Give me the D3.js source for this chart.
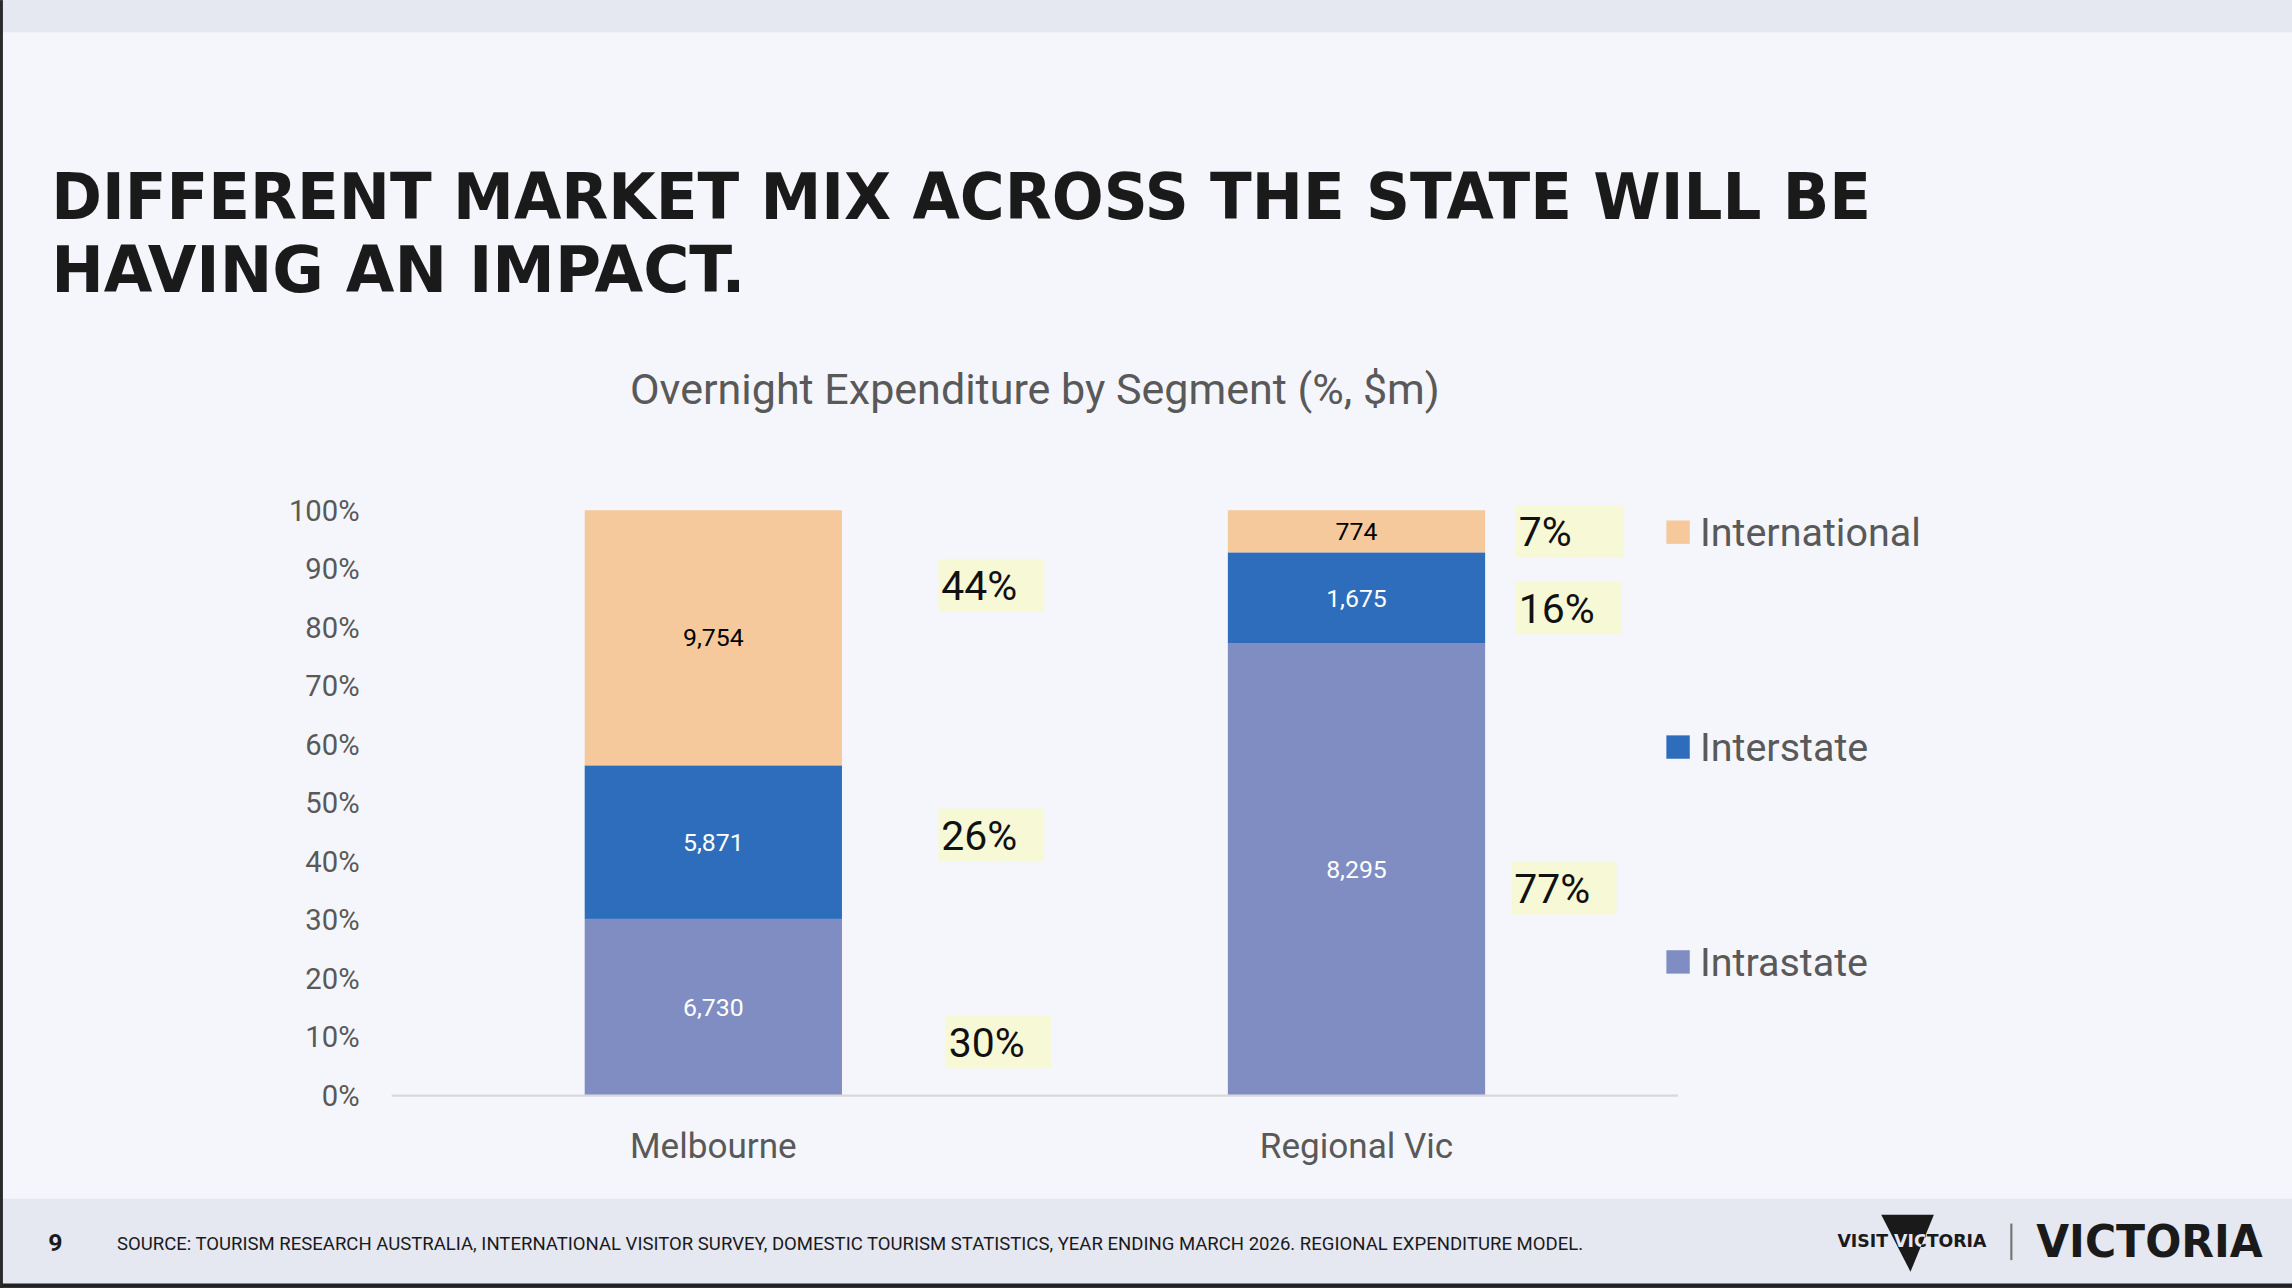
<!DOCTYPE html>
<html>
<head>
<meta charset="utf-8">
<script src="https://cdn.jsdelivr.net/npm/d3@7"></script>
<style>
  html, body { margin: 0; padding: 0; background: #f5f6fb; }
  svg { display: block; }
</style>
</head>
<body>
<svg id="slide" width="2292" height="1288" viewBox="0 0 1568 881"></svg>
<script>
// data
var regions = ['Melbourne', 'Regional Vic']
var segments = ['Intrastate', 'Interstate', 'International']
var intrastate = [6730, 8295]
var interstate = [5871, 1675]
var international = [9754, 774]
var yTicks = [0, 0.1, 0.2, 0.3, 0.4, 0.5, 0.6, 0.7, 0.8, 0.9, 1]

var colors = { Intrastate: '#7f8dc2', Interstate: '#2e6dbb', International: '#f5c99b' }
var labelColors = { Intrastate: '#ffffff', Interstate: '#ffffff', International: '#000000' }

// hand placed % boxes beside each bar: [dx from bar edge, dy from segment middle]
var calloutShift = {
    'Melbourne': { Intrastate: [71, 24], Interstate: [66, -5], International: [66, -36] },
    'Regional Vic': { Intrastate: [18, 13], Interstate: [21, 7], International: [21, 0] }
}

var svg = d3.select('#slide')
var W = 1568, H = 881

// slide background and bands
svg.append('rect').attr('width', W).attr('height', H).attr('fill', '#f5f6fb')
svg.append('rect').attr('width', W).attr('height', 22).attr('fill', '#e5e7f1')
svg.append('rect').attr('y', 820).attr('width', W).attr('height', 61).attr('fill', '#e5e7f1')
svg.append('rect').attr('y', 878).attr('width', W).attr('height', 3).attr('fill', '#222')
svg.append('rect').attr('x', 0).attr('y', 0).attr('width', 2).attr('height', H).attr('fill', '#2a2a2a')

// headline, two lines
var headline = ['DIFFERENT MARKET MIX ACROSS THE STATE WILL BE', 'HAVING AN IMPACT.']
var headWidths = [1245, 475]
svg.selectAll('text.head').data(headline).enter().append('text')
    .attr('class', 'head')
    .attr('x', 35)
    .attr('y', function(d, i) { return 150 + i * 49.5 })
    .attr('textLength', function(d, i) { return headWidths[i] })
    .attr('lengthAdjust', 'spacingAndGlyphs')
    .attr('font-family', 'Liberation Sans Narrow, DejaVu Sans Condensed, sans-serif')
    .attr('font-weight', 'bold')
    .attr('font-size', 44)
    .attr('fill', '#1a1a1a')
    .text(function(d) { return d })

// chart title
svg.append('text')
    .attr('x', 708).attr('y', 276)
    .attr('text-anchor', 'middle')
    .attr('textLength', 554).attr('lengthAdjust', 'spacingAndGlyphs')
    .attr('font-family', 'Roboto, sans-serif')
    .attr('font-size', 29)
    .attr('fill', '#595959')
    .text('Overnight Expenditure by Segment (%, $m)')

// chart
var plot = { left: 268, right: 1148, top: 349, bottom: 749 }

var rows = regions.map(function(r, i) {
    return { region: r, Intrastate: intrastate[i], Interstate: interstate[i], International: international[i] }
})
var stack = d3.stack().keys(segments).offset(d3.stackOffsetExpand)
var series = stack(rows)

var x = d3.scaleBand().domain(regions).range([plot.left, plot.right]).paddingInner(0.6).paddingOuter(0.3)
var y = d3.scaleLinear().domain([0, 1]).range([plot.bottom, plot.top])

var yAxis = d3.axisLeft(y).tickValues(yTicks).tickFormat(d3.format('.0%')).tickSize(0).tickPadding(22)
var gy = svg.append('g').attr('transform', 'translate(' + plot.left + ',0)').call(yAxis)
gy.select('.domain').remove()
gy.selectAll('text')
    .attr('font-family', 'Roboto, sans-serif')
    .attr('font-size', 20)
    .attr('fill', '#595959')
    .attr('dy', '0.34em')

var xAxis = d3.axisBottom(x).tickSize(0).tickPadding(26)
var gx = svg.append('g').attr('transform', 'translate(0,' + plot.bottom + ')').call(xAxis)
gx.select('.domain').remove()
gx.selectAll('text')
    .attr('font-family', 'Roboto, sans-serif')
    .attr('font-size', 24)
    .attr('fill', '#595959')

var layers = svg.selectAll('g.layer').data(series).enter().append('g')
    .attr('class', 'layer')
    .attr('fill', function(d) { return colors[d.key] })

layers.selectAll('rect').data(function(d) { return d }).enter().append('rect')
    .attr('x', function(d) { return x(d.data.region) })
    .attr('width', x.bandwidth())
    .attr('y', function(d) { return y(d[1]) })
    .attr('height', function(d) { return y(d[0]) - y(d[1]) })

// baseline over the bar bottoms
svg.append('line')
    .attr('x1', plot.left).attr('x2', plot.right)
    .attr('y1', plot.bottom + 0.5).attr('y2', plot.bottom + 0.5)
    .attr('stroke', '#d9d9d9').attr('stroke-width', 1.5)

// value labels inside bars
var fmt = d3.format(',')
layers.selectAll('text').data(function(d) {
    return d.map(function(p) { p.key = d.key; return p })
}).enter().append('text')
    .attr('x', function(d) { return x(d.data.region) + x.bandwidth() / 2 })
    .attr('y', function(d) { return (y(d[0]) + y(d[1])) / 2 })
    .attr('dy', '0.35em')
    .attr('text-anchor', 'middle')
    .attr('font-family', 'Roboto, sans-serif')
    .attr('font-size', 17)
    .attr('fill', function(d) { return labelColors[d.key] })
    .text(function(d) { return fmt(d.data[d.key]) })

// % boxes
var pct = d3.format('.0%')
series.forEach(function(s) {
    s.forEach(function(p) {
        var sh = calloutShift[p.data.region][s.key]
        var bx = x(p.data.region) + x.bandwidth() + sh[0]
        var cy = (y(p[0]) + y(p[1])) / 2 + sh[1]
        var label = pct(p[1] - p[0])
        var g = svg.append('g').attr('transform', 'translate(' + bx + ',' + cy + ')')
        g.append('rect')
            .attr('x', 0).attr('y', -18)
            .attr('width', label.length > 2 ? 72 : 74).attr('height', 36)
            .attr('fill', '#f7f8d6')
        g.append('text')
            .attr('x', 2).attr('y', 0).attr('dy', '0.36em')
            .attr('font-family', 'Roboto, sans-serif')
            .attr('font-size', 28)
            .attr('fill', '#111')
            .text(label)
    })
})

// legend
var legendRows = ['International', 'Interstate', 'Intrastate']
var lg = svg.selectAll('g.legend').data(legendRows).enter().append('g')
    .attr('class', 'legend')
    .attr('transform', function(d, i) { return 'translate(1140,' + (364 + i * 147) + ')' })
lg.append('rect')
    .attr('x', 0).attr('y', -8).attr('width', 16).attr('height', 16)
    .attr('fill', function(d) { return colors[d] })
lg.append('text')
    .attr('x', 23).attr('dy', '0.36em')
    .attr('font-family', 'Roboto, sans-serif')
    .attr('font-size', 27)
    .attr('fill', '#595959')
    .text(function(d) { return d })

// footer
svg.append('text')
    .attr('x', 33).attr('y', 856)
    .attr('font-family', 'Roboto, sans-serif').attr('font-weight', 'bold')
    .attr('font-size', 17).attr('fill', '#1a1a1a')
    .text('9')
svg.append('text')
    .attr('x', 80).attr('y', 855)
    .attr('textLength', 1003).attr('lengthAdjust', 'spacingAndGlyphs')
    .attr('font-family', 'Roboto, sans-serif')
    .attr('font-size', 12.5).attr('fill', '#1a1a1a')
    .text('SOURCE: TOURISM RESEARCH AUSTRALIA, INTERNATIONAL VISITOR SURVEY, DOMESTIC TOURISM STATISTICS, YEAR ENDING MARCH 2026. REGIONAL EXPENDITURE MODEL.')

// logos: dark triangle with the wordmark knocked out where it crosses
var tri = 'M1287,831 L1323,831 L1307,870 Z'
svg.append('clipPath').attr('id', 'triClip').append('path').attr('d', tri)
var logo = svg.append('g')
function visitText(g, fill) {
    return g.append('text')
        .attr('x', 1257).attr('y', 853)
        .attr('textLength', 102).attr('lengthAdjust', 'spacingAndGlyphs')
        .attr('font-family', 'DejaVu Sans, sans-serif').attr('font-weight', 'bold')
        .attr('font-size', 12).attr('fill', fill)
        .text('VISIT VICTORIA')
}
visitText(logo, '#1a1a1a')
logo.append('path').attr('d', tri).attr('fill', '#1a1a1a')
visitText(logo.append('g').attr('clip-path', 'url(#triClip)'), '#e5e7f1')
logo.append('line')
    .attr('x1', 1376).attr('x2', 1376).attr('y1', 837).attr('y2', 862)
    .attr('stroke', '#777').attr('stroke-width', 1.5)
logo.append('text')
    .attr('x', 1393).attr('y', 860)
    .attr('textLength', 155).attr('lengthAdjust', 'spacingAndGlyphs')
    .attr('font-family', 'DejaVu Sans, sans-serif').attr('font-weight', 'bold')
    .attr('font-size', 30).attr('fill', '#1a1a1a')
    .text('VICTORIA')
</script>
</body>
</html>
